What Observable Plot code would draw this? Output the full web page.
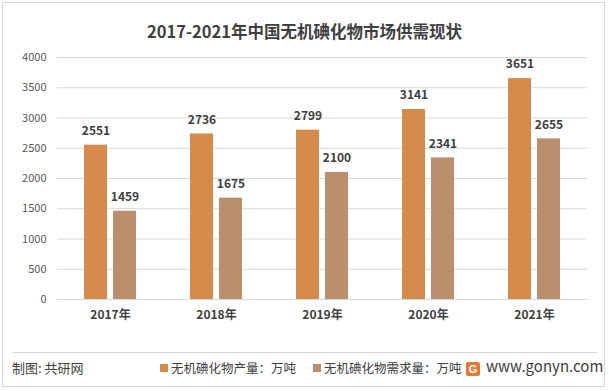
<!DOCTYPE html>
<html><head><meta charset="utf-8">
<script src="https://cdn.jsdelivr.net/npm/d3@7"></script>
<script src="https://cdn.jsdelivr.net/npm/@observablehq/plot@0.6"></script>
<style>
body{margin:0;background:#fff;font-family:"Noto Sans CJK SC","Microsoft YaHei",sans-serif;}
#wrap{position:relative;width:609px;height:391px;overflow:hidden;background:#fff;}
#frame{position:absolute;left:2px;top:2px;width:603px;height:385px;border:1px solid #d9d9d9;box-sizing:border-box;}
#title{position:absolute;left:0;width:609px;top:20px;text-align:center;font-size:16.5px;font-weight:bold;color:#404040;line-height:22px;}
#chart{position:absolute;left:0;top:37px;}
#sep{position:absolute;left:12px;top:352px;width:585px;height:1px;background:#d9d9d9;}
.foot{position:absolute;top:359px;font-size:13px;color:#404040;line-height:18px;white-space:nowrap;}
.sw{display:inline-block;width:8px;height:8px;margin-right:3px;vertical-align:1px;}
#logo{display:inline-block;width:14px;height:14px;background:#e8773a;color:#fff;font-size:11px;font-weight:bold;line-height:14px;text-align:center;border-radius:2px;margin-right:6px;vertical-align:-1px;font-family:Arial,sans-serif;}
</style></head>
<body><div id="wrap"><div id="frame"></div><div id="title"></div><div id="chart"></div><div id="sep"></div>
<div class="foot" id="src" style="left:12px;"></div>
<div class="foot" id="leg0" style="left:160px;font-size:12.5px;"></div>
<div class="foot" id="leg1" style="left:313px;font-size:12.5px;"></div>
<div class="foot" id="site" style="left:466px;font-size:15px;top:357px;"></div>
</div>
<script>
const titleText = "2017-2021年中国无机碘化物市场供需现状";
const years = ["2017年","2018年","2019年","2020年","2021年"];
const production = [2551, 2736, 2799, 3141, 3651];
const demand = [1459, 1675, 2100, 2341, 2655];
const seriesNames = ["无机碘化物产量：万吨", "无机碘化物需求量：万吨"];
const colors = ["#d48b4c", "#bb8e6d"];
const yTicks = [0, 500, 1000, 1500, 2000, 2500, 3000, 3500, 4000];
const sourceText = "制图: 共研网";
const siteText = "www.gonyn.com";

const data = years.flatMap((yr, i) => [
  {year: yr, series: seriesNames[0], value: production[i]},
  {year: yr, series: seriesNames[1], value: demand[i]}
]);

document.getElementById("title").textContent = titleText;
document.getElementById("src").textContent = sourceText;
seriesNames.forEach((s, i) => {
  const el = document.getElementById("leg" + i);
  el.innerHTML = `<span class="sw" style="background:${colors[i]}"></span>`;
  el.appendChild(document.createTextNode(s));
});
const site = document.getElementById("site");
site.innerHTML = `<span id="logo">G</span>`;
site.appendChild(document.createTextNode(siteText));

const chart = Plot.plot({
  width: 609,
  height: 297,
  marginLeft: 55,
  marginRight: 21,
  marginTop: 20,
  marginBottom: 35,
  style: {fontFamily: "'Noto Sans CJK SC', sans-serif", fontSize: "11px", color: "#595959", background: "transparent"},
  fx: {domain: years, paddingInner: 0, paddingOuter: 0, label: null},
  x: {domain: seriesNames, paddingInner: 0.2, paddingOuter: 0.91, axis: null},
  y: {domain: [0, 4000], label: null},
  color: {domain: seriesNames, range: colors},
  marks: [
    Plot.ruleY(yTicks, {stroke: "#d9d9d9", strokeWidth: 1}),
    Plot.axisY({ticks: yTicks, tickSize: 0, tickPadding: 11, tickFormat: d => String(d), fontSize: 11, fill: "#595959"}),
    Plot.axisFx({anchor: "bottom", tickSize: 0, tickPadding: 11, fontSize: 12, fontWeight: "bold", fill: "#404040", label: null}),
    Plot.barY(data, {fx: "year", x: "series", y: "value", fill: "series"}),
    Plot.text(data, {fx: "year", x: "series", y: "value", text: d => String(d.value), dy: -14, fontSize: 12, fontWeight: "bold", fill: "#404040"})
  ]
});
document.getElementById("chart").appendChild(chart);
</script></body></html>
